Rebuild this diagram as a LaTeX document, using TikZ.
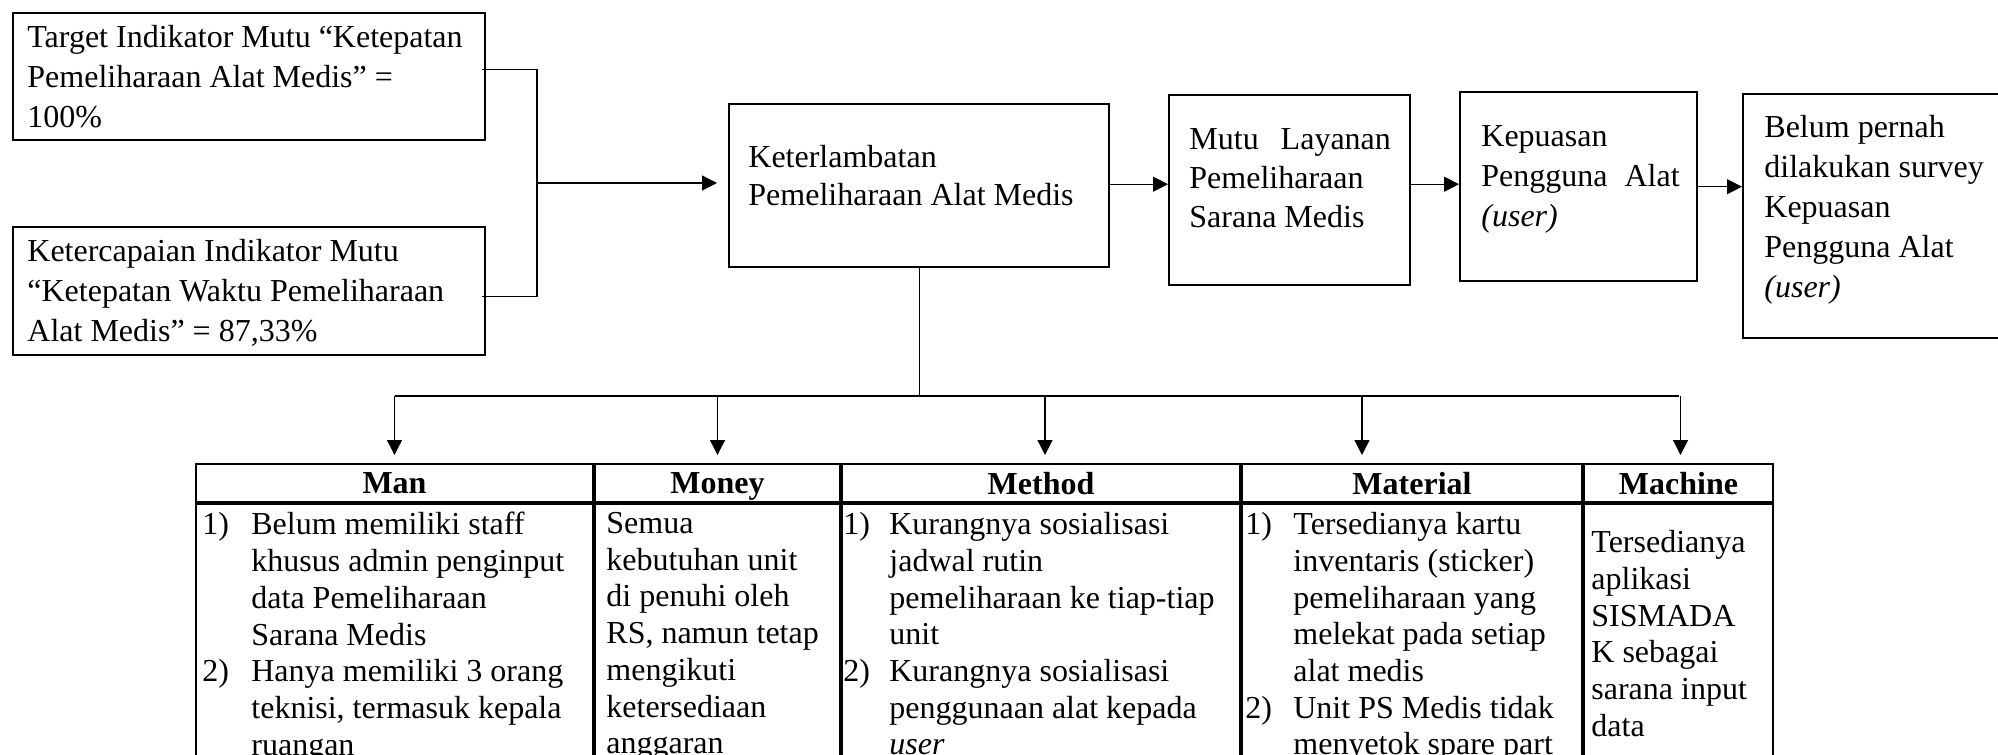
\documentclass[tikz,border=0pt]{standalone}
\usepackage{fontspec}
\setmainfont{Liberation Serif}
\usetikzlibrary{arrows.meta,calc}
\tikzset{
 box/.style={draw, line width=1.2pt, anchor=north west, inner sep=0pt},
 txt/.style={anchor=north west, inner sep=0pt, align=left, font=\fontsize{16pt}{20pt}\selectfont},
 ttxt/.style={anchor=north west, inner sep=0pt, align=left, font=\fontsize{16pt}{18.35pt}\selectfont},
 conn/.style={line width=0.65pt},
 arr/.style={line width=0.65pt, -{Triangle[length=7.5pt,width=7.5pt]}},
 hdr/.style={draw, line width=1pt, anchor=north west, inner sep=0pt, minimum height=19pt, text depth=0pt, font=\fontsize{16pt}{18pt}\selectfont\bfseries},
 cell/.style={draw, line width=1pt, anchor=north west, inner sep=0pt, minimum height=150pt},
}
\begin{document}
\begin{tikzpicture}[x=0.5pt,y=-0.5pt]
\useasboundingbox (0,0) rectangle (1998,755);
\clip (0,0) rectangle (1998,755);

% top boxes
\node[box, minimum width=236pt, minimum height=63.5pt] (b1) at (12,12) {};
\node[box, minimum width=236pt, minimum height=64pt] (b2) at (12,226) {};
\node[box, minimum width=190pt, minimum height=81.5pt] (main) at (728,103) {};
\node[box, minimum width=120.5pt, minimum height=95pt] (mutu) at (1168,94) {};
\node[box, minimum width=118.5pt, minimum height=94.5pt] (kep) at (1459,91) {};
\node[box, minimum width=150pt, minimum height=122pt] (belum) at (1742,93) {};

\node[txt] (t1) at (27,25) {Target Indikator Mutu “Ketepatan\\Pemeliharaan Alat Medis” =\\100\%};
\node[txt] (t2) at (27,239) {Ketercapaian Indikator Mutu\\“Ketepatan Waktu Pemeliharaan\\Alat Medis” = 87,33\%};
\node[txt, font=\fontsize{16pt}{19pt}\selectfont] (tmain) at (748,145) {Keterlambatan\\Pemeliharaan Alat Medis};
\node[txt, font=\fontsize{16pt}{19.5pt}\selectfont] (tmutu) at (1189,128) {Mutu\hspace{11pt}Layanan\\Pemeliharaan\\Sarana Medis};
\node[txt] (tkep) at (1481,125) {Kepuasan\\Pengguna\hspace{8.5pt}Alat\\\textit{(user)}};
\node[txt] (tbelum) at (1764,115) {Belum pernah\\dilakukan survey\\Kepuasan\\Pengguna Alat\\\textit{(user)}};

% connectors on the left
\coordinate (j) at (537,183);
\draw[conn] ([xshift=-2pt,yshift=3.5pt]b1.east) -| (j);
\draw[conn] ([xshift=-2pt,yshift=-2.5pt]b2.east) -| (j);
\draw[arr, shorten >=5.5pt] (j) -- (j -| main.west);

% chain of arrows
\draw[arr] ([yshift=0.75pt]main.east) -- ([yshift=0.75pt]main.east -| mutu.west);
\draw[arr] ([yshift=0.75pt]main.east -| mutu.east) -- ([yshift=0.75pt]main.east -| kep.west);
\draw[arr] (kep.east) -- (kep.east -| belum.west);

% table header
\node[hdr, minimum width=198.5pt] (hman) at (195,463) {Man};
\node[hdr, minimum width=122.5pt] (hmon) at (hman.north east) {Money};
\node[hdr, minimum width=199pt] (hmet) at (hmon.north east) {Method};
\node[hdr, minimum width=170pt] (hmat) at (hmet.north east) {Material};
\node[hdr, minimum width=94.5pt] (hmac) at (hmat.north east) {Machine};

% table body
\node[cell, minimum width=198.5pt] (cman) at (hman.south west) {};
\node[cell, minimum width=122.5pt] (cmon) at (hmon.south west) {};
\node[cell, minimum width=199pt] (cmet) at (hmet.south west) {};
\node[cell, minimum width=170pt] (cmat) at (hmat.south west) {};
\node[cell, minimum width=94.5pt] (cmac) at (hmac.south west) {};

% branch from main box
\coordinate (br) at (918,396);
\draw[conn] (main.south) -- (main.south |- br);
\draw[conn] (br -| hman.north) -- (br -| hmac.north);
\coordinate (tman) at ([yshift=4pt]hman.north);
\coordinate (tmon) at ([yshift=4pt]hmon.north);
\coordinate (tmet) at ([xshift=2pt,yshift=4pt]hmet.north);
\coordinate (tmat) at ([xshift=-25pt,yshift=4pt]hmat.north);
\coordinate (tmac) at ([xshift=1pt,yshift=4pt]hmac.north);
\draw[arr] (br -| tman) -- (tman);
\draw[arr] (br -| tmon) -- (tmon);
\draw[arr] (br -| tmet) -- (tmet);
\draw[arr] (br -| tmat) -- (tmat);
\draw[arr] (br -| tmac) -- (tmac);

% table text
\node[ttxt] (xman) at (202,512) {\makebox[24.5pt][l]{1)}Belum memiliki staff\\
\hspace*{24.5pt}khusus admin penginput\\
\hspace*{24.5pt}data Pemeliharaan\\
\hspace*{24.5pt}Sarana Medis\\
\makebox[24.5pt][l]{2)}Hanya memiliki 3 orang\\
\hspace*{24.5pt}teknisi, termasuk kepala\\
\hspace*{24.5pt}ruangan};
\node[ttxt] (xmon) at (606,512) {Semua\\kebutuhan unit\\di penuhi oleh\\RS, namun tetap\\mengikuti\\ketersediaan\\anggaran};
\node[ttxt] (xmet) at (843,512) {\makebox[23pt][l]{1)}Kurangnya sosialisasi\\
\hspace*{23pt}jadwal rutin\\
\hspace*{23pt}pemeliharaan ke tiap-tiap\\
\hspace*{23pt}unit\\
\makebox[23pt][l]{2)}Kurangnya sosialisasi\\
\hspace*{23pt}penggunaan alat kepada\\
\hspace*{23pt}\textit{user}};
\node[ttxt] (xmat) at (1245,512) {\makebox[24pt][l]{1)}Tersedianya kartu\\
\hspace*{24pt}inventaris (sticker)\\
\hspace*{24pt}pemeliharaan yang\\
\hspace*{24pt}melekat pada setiap\\
\hspace*{24pt}alat medis\\
\makebox[24pt][l]{2)}Unit PS Medis tidak\\
\hspace*{24pt}menyetok spare part};
\node[ttxt] (xmac) at (1591,530) {Tersedianya\\aplikasi\\SISMADA\\K sebagai\\sarana input\\data};
\end{tikzpicture}
\end{document}
